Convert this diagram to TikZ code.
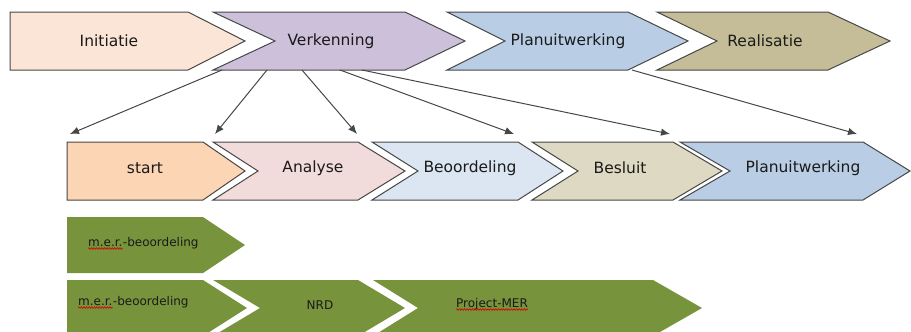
\documentclass[tikz,border=0pt]{standalone}
\usepackage{fontspec}
\setmainfont{DejaVu Sans}
\usetikzlibrary{arrows.meta,decorations.pathmorphing}

\definecolor{initC}{HTML}{FBE5D6}
\definecolor{verkC}{HTML}{CCC0DA}
\definecolor{planC}{HTML}{B9CDE5}
\definecolor{realC}{HTML}{C4BD97}
\definecolor{startC}{HTML}{FCD5B4}
\definecolor{analC}{HTML}{F2DCDB}
\definecolor{beoC}{HTML}{DCE6F2}
\definecolor{besC}{HTML}{DDD9C3}
\definecolor{merC}{HTML}{77933C}
\definecolor{edgeC}{HTML}{474747}
\definecolor{txtC}{HTML}{1A1A1A}

% chevron: #1 style, #2 left x, #3 notch x, #4 top-right x, #5 tip x, #6 top y, #7 bottom y
\newcommand\chevshape[7]{%
  \path[#1] (#2,#6) -- (#4,#6) -- (#5,{(#6+#7)/2}) -- (#4,#7) -- (#2,#7)
    -- (#3,{(#6+#7)/2}) -- cycle;}

\tikzset{
  phase/.style={draw=edgeC, line width=1pt, line join=miter},
  merbox/.style={fill=merC},
  lbl/.style={text=txtC, inner sep=0pt, font=\fontsize{15.5}{18}\selectfont},
  glbl/.style={text=txtC, inner sep=0pt, font=\fontsize{12}{14}\selectfont},
  link/.style={draw=edgeC, line width=1pt, -{Latex[length=9pt,width=7.5pt]}},
  spell/.style={draw=red!85!black, line width=0.6pt,
    decorate, decoration={snake, amplitude=0.8pt, segment length=2.6pt}}
}

\begin{document}
\begin{tikzpicture}[x=1pt,y=-1pt]
\useasboundingbox (0,0) rectangle (911,332);

% top row: project phases
\chevshape{phase, fill=initC}{10}{10}{188}{245}{12}{70}
\chevshape{phase, fill=verkC}{213}{275}{405}{465}{12}{70}
\chevshape{phase, fill=planC}{447}{505}{628}{688}{12}{70}
\chevshape{phase, fill=realC}{657}{717}{828}{890}{12}{70}
\node[lbl] (initiatie) at (109,41) {Initiatie};
\node[lbl] (verkenning) at (331,41) {Verkenning};
\node[lbl] (planuitw) at (568,41) {Planuitwerking};
\node[lbl] (realisatie) at (765,41) {Realisatie};

% second row: steps
\chevshape{phase, fill=startC}{67}{67}{203}{245}{142}{200}
\chevshape{phase, fill=analC}{213}{258}{358}{405}{142}{200}
\chevshape{phase, fill=beoC}{372}{418}{518}{563}{142}{200}
\chevshape{phase, fill=besC}{532}{578}{673}{722}{142}{200}
\chevshape{phase, fill=planC}{680}{730}{863}{910}{142}{200}
\node[lbl] (start) at (145,168) {start};
\node[lbl] (analyse) at (313,168) {Analyse};
\node[lbl] (beoordeling) at (470,168) {Beoordeling};
\node[lbl] (besluit) at (620,168) {Besluit};
\node[lbl] (planuitw2) at (803,168) {Planuitwerking};

% environmental assessment tracks
\chevshape{merbox}{67}{67}{203}{245}{217}{273}
\chevshape{merbox}{67}{67}{203}{247}{280}{336}
\chevshape{merbox}{213}{260}{358}{405}{280}{336}
\chevshape{merbox}{373}{418}{653}{702}{280}{336}

\node[glbl, anchor=base west] (mer1a) at (88,246) {m.e.r.};
\node[glbl, anchor=base west] (mer1b) at (mer1a.base east) {-beoordeling};
\node[glbl, anchor=base west] (mer2a) at (78,305) {m.e.r.};
\node[glbl, anchor=base west] (mer2b) at (mer2a.base east) {-beoordeling};
\node[glbl] (nrd) at (320,305) {NRD};
\node[glbl, anchor=base west] (pmer) at (456,307) {Project-MER};
\draw[spell] ([yshift=-2.5pt]mer1a.base west) -- ([yshift=-2.5pt]mer1a.base east);
\draw[spell] ([yshift=-2.5pt]mer2a.base west) -- ([yshift=-2.5pt]mer2a.base east);
\draw[spell] ([yshift=-2.5pt]pmer.base west) -- ([yshift=-2.5pt]pmer.base east);

% connectors
\coordinate (v1) at (222,70);
\coordinate (v2) at (267,70);
\coordinate (v3) at (302,70);
\coordinate (v4) at (340,70);
\coordinate (v5) at (362,70);
\coordinate (p1) at (632,70);
\coordinate (t1) at (70,134);
\coordinate (t2) at (215,134);
\coordinate (t3) at (357,134);
\coordinate (t4) at (514,134);
\coordinate (t5) at (670,134);
\coordinate (t6) at (857,134);
\draw[link] (v1) -- (t1);
\draw[link] (v2) -- (t2);
\draw[link] (v3) -- (t3);
\draw[link] (v4) -- (t4);
\draw[link] (v5) -- (t5);
\draw[link] (p1) -- (t6);
\end{tikzpicture}
\end{document}
